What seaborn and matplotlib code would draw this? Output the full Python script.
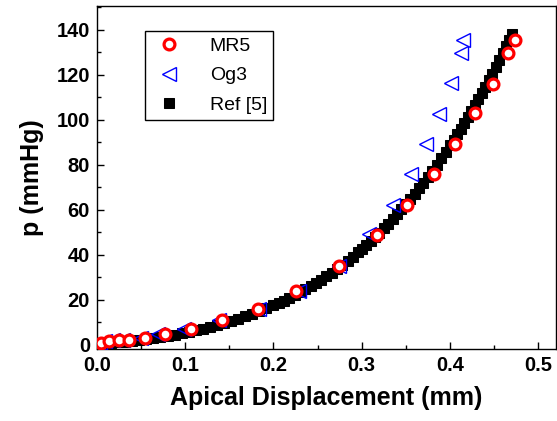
import numpy as np
import pandas as pd
import matplotlib
matplotlib.use("Agg")
import matplotlib.pyplot as plt
import seaborn as sns
from matplotlib.ticker import MultipleLocator

# ---- data ----
mr5_x = [0.005, 0.014, 0.025, 0.036, 0.054, 0.077, 0.107, 0.142, 0.183, 0.225, 0.274,
         0.317, 0.351, 0.382, 0.406, 0.428, 0.449, 0.466, 0.474]
mr5_y = [0.7, 1.5, 1.9, 2.2, 3.0, 4.7, 6.7, 10.7, 15.6, 23.7, 35.1,
         48.7, 61.9, 75.9, 88.9, 102.7, 115.9, 129.6, 135.3]

og3_x = [0.003, 0.009, 0.018, 0.030, 0.050, 0.069, 0.099, 0.138, 0.184, 0.229, 0.274,
         0.308, 0.336, 0.356, 0.373, 0.388, 0.401, 0.412, 0.415]
og3_y = [0.7, 1.5, 1.9, 2.2, 3.0, 4.7, 6.7, 10.7, 15.6, 23.7, 35.1,
         48.9, 62.2, 75.6, 88.9, 102.5, 116.3, 129.6, 135.2]

ref_x = [0.000, 0.008, 0.016, 0.024, 0.032, 0.040, 0.048, 0.056, 0.064, 0.072,
         0.080, 0.088, 0.096, 0.104, 0.112, 0.120, 0.128, 0.136, 0.144, 0.152,
         0.160, 0.168, 0.176, 0.184, 0.192, 0.200, 0.206, 0.212, 0.218, 0.224,
         0.230, 0.236, 0.242, 0.248, 0.254, 0.260, 0.266, 0.272, 0.278, 0.284,
         0.290, 0.296, 0.300, 0.305, 0.310, 0.315, 0.320, 0.325, 0.330, 0.335,
         0.340, 0.345, 0.350, 0.355, 0.360, 0.365, 0.370, 0.375, 0.380, 0.385,
         0.390, 0.395, 0.400, 0.404, 0.408, 0.412, 0.416, 0.420, 0.424, 0.428,
         0.432, 0.436, 0.440, 0.444, 0.448, 0.452, 0.456, 0.460, 0.464, 0.467,
         0.470]
ref_y = [0.0, 0.3, 0.6, 0.9, 1.3, 1.7, 2.1, 2.5, 2.9, 3.4,
         3.9, 4.4, 5.0, 5.6, 6.3, 7.0, 7.8, 8.6, 9.5, 10.4,
         11.4, 12.5, 13.6, 14.8, 16.1, 17.4, 18.45, 19.55, 20.7, 21.9,
         23.15, 24.5, 25.85, 27.3, 28.8, 30.35, 31.95, 33.6, 35.3, 37.1,
         39.0, 41.0, 42.3, 44.05, 45.9, 47.75, 49.6, 51.6, 53.6, 55.7,
         57.8, 60.05, 62.3, 64.6, 67.0, 69.5, 72.0, 74.6, 77.2, 79.95,
         82.75, 85.65, 88.6, 91.0, 93.4, 95.9, 98.4, 101.0, 103.6, 106.3,
         109.0, 111.8, 114.6, 117.5, 120.4, 123.4, 126.4, 129.5, 132.6, 135.2,
         138.0]

x_ticks = [0.0, 0.1, 0.2, 0.3, 0.4, 0.5]
y_ticks = [0, 20, 40, 60, 80, 100, 120, 140]

sns.set_style("ticks")
plt.rcParams['font.family'] = ['Liberation Sans', 'DejaVu Sans']
plt.rcParams['text.color'] = 'black'
plt.rcParams['axes.labelcolor'] = 'black'
plt.rcParams['xtick.color'] = 'black'
plt.rcParams['ytick.color'] = 'black'

fig = plt.figure(figsize=(5.57, 4.21), dpi=100)
ax = fig.add_axes([0.174, 0.171, 0.824, 0.815])

df_ref = pd.DataFrame({"x": ref_x, "y": ref_y})
df_og = pd.DataFrame({"x": og3_x, "y": og3_y})
df_mr = pd.DataFrame({"x": mr5_x, "y": mr5_y})

sns.lineplot(data=df_ref, x="x", y="y", ax=ax, sort=False, estimator=None,
             linestyle="", marker="s", markersize=7.2, color="black",
             markeredgecolor="black", label="Ref [5]", zorder=2)
sns.lineplot(data=df_og, x="x", y="y", ax=ax, sort=False, estimator=None,
             linestyle="", marker="<", markersize=9.5, color="blue",
             markerfacecolor="none", markeredgecolor="blue", markeredgewidth=1.0,
             label="Og3", zorder=3)
sns.lineplot(data=df_mr, x="x", y="y", ax=ax, sort=False, estimator=None,
             linestyle="", marker="o", markersize=7.8, color="red",
             markerfacecolor="white", markeredgecolor="red", markeredgewidth=2.3,
             label="MR5", zorder=4)

ax.set_xlim(0, 0.52)
ax.set_ylim(-2, 150.5)
ax.set_xticks(x_ticks)
ax.set_xticklabels([f"{v:.1f}" for v in x_ticks])
ax.set_yticks(y_ticks)
ax.set_yticklabels([str(v) for v in y_ticks])
ax.xaxis.set_minor_locator(MultipleLocator(0.05))
ax.yaxis.set_minor_locator(MultipleLocator(10))
ax.tick_params(which="both", direction="in", top=False, right=False,
               colors="black", labelcolor="black")
ax.tick_params(which="major", length=5, width=1, labelsize=14.5, pad=5)
ax.tick_params(which="minor", length=3, width=1)
for lab in ax.get_xticklabels() + ax.get_yticklabels():
    lab.set_fontweight("bold")
for sp in ax.spines.values():
    sp.set_visible(True)
    sp.set_color("black")
    sp.set_linewidth(1.0)

ax.set_xlabel("Apical Displacement (mm)", fontsize=18, fontweight="bold",
              labelpad=8, color="black")
ax.set_ylabel("p (mmHg)", fontsize=18, fontweight="bold", labelpad=9, color="black")

handles, labels = ax.get_legend_handles_labels()
order = [labels.index("MR5"), labels.index("Og3"), labels.index("Ref [5]")]
leg = ax.legend([handles[i] for i in order], [labels[i] for i in order],
                loc="upper left", bbox_to_anchor=(0.105, 0.927), borderaxespad=0,
                fontsize=14, frameon=True, fancybox=False, edgecolor="black",
                framealpha=1, handletextpad=1.2, borderpad=0.32, labelspacing=0.62,
                handlelength=1.8)
leg.get_frame().set_linewidth(1.0)
for t in leg.get_texts():
    t.set_color("black")

fig.savefig("out.png", dpi=100)
